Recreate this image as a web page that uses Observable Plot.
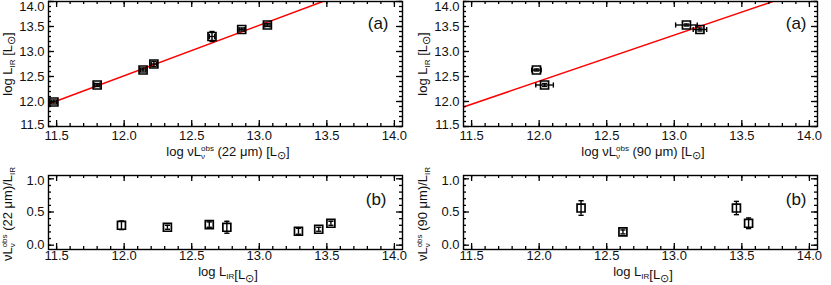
<!DOCTYPE html>
<html><head><meta charset="utf-8">
<script src="https://cdn.jsdelivr.net/npm/d3@7"></script>
<script src="https://cdn.jsdelivr.net/npm/@observablehq/plot@0.6"></script>
<style>
body{margin:0;background:#fff;}
#chart{position:relative;width:831px;height:285px;overflow:hidden;font-family:"Liberation Sans",Arial,sans-serif;}
#chart svg{position:absolute;overflow:visible;}
</style></head><body><div id="chart"></div>
<script>
// ---------- tick values ----------
const xMajor = [11.5, 12.0, 12.5, 13.0, 13.5, 14.0];
const xMinor = [11.5,11.6,11.7,11.8,11.9,12.0,12.1,12.2,12.3,12.4,12.5,12.6,12.7,12.8,12.9,13.0,13.1,13.2,13.3,13.4,13.5,13.6,13.7,13.8,13.9,14.0];
const yMajorTop = [11.5, 12.0, 12.5, 13.0, 13.5, 14.0];
const yMinorTop = [11.5,11.6,11.7,11.8,11.9,12.0,12.1,12.2,12.3,12.4,12.5,12.6,12.7,12.8,12.9,13.0,13.1,13.2,13.3,13.4,13.5,13.6,13.7,13.8,13.9,14.0];
const yMajorBot = [0.0, 0.5, 1.0];
const yMinorBot = [0.0,0.1,0.2,0.3,0.4,0.5,0.6,0.7,0.8,0.9,1.0];

// ---------- 22 um, panel (a) ----------
const nuL22   = [11.48, 11.80, 12.14, 12.22, 12.65, 12.87, 13.06];
const nuL22Err= [0.02, 0.02, 0.02, 0.02, 0.02, 0.02, 0.02];
const lir22   = [11.99, 12.33, 12.63, 12.75, 13.30, 13.44, 13.53];
const lir22Err= [0.04, 0.03, 0.04, 0.05, 0.10, 0.03, 0.03];
const fit22X  = [11.44, 13.47];
const fit22Y  = [11.95, 14.00];
// ---------- 22 um, panel (b) ----------
const lirB22    = [11.98, 12.32, 12.63, 12.76, 13.29, 13.44, 13.53];
const ratio22   = [0.30, 0.27, 0.31, 0.27, 0.21, 0.24, 0.33];
const ratio22Err= [0.065, 0.03, 0.04, 0.09, 0.045, 0.03, 0.03];

// ---------- 90 um, panel (a) ----------
const nuL90   = [11.98, 12.04, 13.09, 13.19];
const nuL90Err= [0.035, 0.065, 0.08, 0.05];
const lir90   = [12.63, 12.33, 13.53, 13.44];
const lir90Err= [0.02, 0.03, 0.02, 0.03];
const fit90X  = [11.44, 13.73];
const fit90Y  = [11.89, 14.00];
// ---------- 90 um, panel (b) ----------
const lirB90    = [12.31, 12.62, 13.46, 13.55];
const ratio90   = [0.56, 0.20, 0.56, 0.33];
const ratio90Err= [0.11, 0.03, 0.10, 0.08];

const xDomain = [11.44, 14.06];
const yDomainTop = [11.5, 14.0];
const yDomainBot = [-0.065, 1.05];

const rows = (xs, ys, eys, exs) => xs.map((x, i) => ({x, y: ys[i], ey: eys ? eys[i] : 0, ex: exs ? exs[i] : 0}));
const hCap = {draw(ctx, size){ const w = Math.sqrt(size/Math.PI); ctx.moveTo(-w,0); ctx.lineTo(w,0);} };
const vCap = {draw(ctx, size){ const w = Math.sqrt(size/Math.PI); ctx.moveTo(0,-w); ctx.lineTo(0,w);} };
const FONT = 13;

function panel(o){
  const iw = o.width - o.ml - o.mr, ih = o.height - o.mt - o.mb;
  const M = 6, m = 3;
  const d = o.rows;
  const marks = [];
  if (o.line) marks.push(Plot.line(o.line, {x:"x", y:"y", stroke:"#f00", strokeWidth:1.5, clip:true}));
  marks.push(
    Plot.ruleX(d, {x:"x", y1:r=>r.y-r.ey, y2:r=>r.y+r.ey, stroke:"#000", strokeWidth:1.4}),
    Plot.dot(d, {x:"x", y:r=>r.y+r.ey, symbol:hCap, r:2.6, stroke:"#000", strokeWidth:1.4}),
    Plot.dot(d, {x:"x", y:r=>r.y-r.ey, symbol:hCap, r:2.6, stroke:"#000", strokeWidth:1.4})
  );
  if (o.xerr) marks.push(
    Plot.ruleY(d, {y:"y", x1:r=>r.x-r.ex, x2:r=>r.x+r.ex, stroke:"#000", strokeWidth:1.4}),
    Plot.dot(d, {x:r=>r.x-r.ex, y:"y", symbol:vCap, r:2.6, stroke:"#000", strokeWidth:1.4}),
    Plot.dot(d, {x:r=>r.x+r.ex, y:"y", symbol:vCap, r:2.6, stroke:"#000", strokeWidth:1.4})
  );
  const yl = o.yMajor;
  marks.push(
    Plot.dot(d, {x:"x", y:"y", symbol:"square", r:4.5, stroke:"#000", strokeWidth:1.7, fill:"none"}),
    Plot.frame({stroke:"#000", strokeWidth:1.4}),
    Plot.tickX(xMajor, {x:v=>v, insetTop:ih-M, stroke:"#000", strokeWidth:1.3}),
    Plot.tickX(xMajor, {x:v=>v, insetBottom:ih-M, stroke:"#000", strokeWidth:1.3}),
    Plot.tickX(xMinor, {x:v=>v, insetTop:ih-m, stroke:"#000", strokeWidth:1.3}),
    Plot.tickX(xMinor, {x:v=>v, insetBottom:ih-m, stroke:"#000", strokeWidth:1.3}),
    Plot.tickY(yl, {y:v=>v, insetRight:iw-M, stroke:"#000", strokeWidth:1.3}),
    Plot.tickY(yl, {y:v=>v, insetLeft:iw-M, stroke:"#000", strokeWidth:1.3}),
    Plot.tickY(o.yMinor, {y:v=>v, insetRight:iw-m, stroke:"#000", strokeWidth:1.3}),
    Plot.tickY(o.yMinor, {y:v=>v, insetLeft:iw-m, stroke:"#000", strokeWidth:1.3}),
    Plot.text(xMajor, {x:v=>v, frameAnchor:"bottom", dy:o.xLabDy, text:v=>v.toFixed(1), fontSize:FONT, fill:"#111"}),
    Plot.text(yl.slice(1, -1), {y:v=>v, frameAnchor:"left", textAnchor:"end", dx:-4, text:v=>v.toFixed(1), fontSize:FONT, fill:"#111"}),
    Plot.text(yl.slice(0, 1), {y:v=>v, frameAnchor:"left", textAnchor:"end", dx:-4, dy:o.lowDy, text:v=>v.toFixed(1), fontSize:FONT, fill:"#111"}),
    Plot.text(yl.slice(-1), {y:v=>v, frameAnchor:"left", textAnchor:"end", dx:-4, dy:o.highDy, text:v=>v.toFixed(1), fontSize:FONT, fill:"#111"}),
    Plot.text([o.tag], {frameAnchor:"top-right", textAnchor:"end", dx:o.tagDx, dy:o.tagDy, fontSize:17, fill:"#111"})
  );
  const svg = Plot.plot({
    width:o.width, height:o.height,
    marginTop:o.mt, marginBottom:o.mb, marginLeft:o.ml, marginRight:o.mr,
    x:{domain:xDomain, axis:null}, y:{domain:o.yDomain, axis:null},
    style:{fontFamily:'"Liberation Sans",Arial,sans-serif', background:"transparent"},
    marks
  });
  svg.style.left = o.left + "px";
  svg.style.top = o.top + "px";
  return svg;
}

const chart = document.getElementById("chart");
const cols = [
  {left:0, a:rows(nuL22, lir22, lir22Err, nuL22Err), b:rows(lirB22, ratio22, ratio22Err),
   line:fit22X.map((x,i)=>({x, y:fit22Y[i]})), tagDxA:-14, tagDxB:-16, wl:"22"},
  {left:415, a:rows(nuL90, lir90, lir90Err, nuL90Err), b:rows(lirB90, ratio90, ratio90Err),
   line:fit90X.map((x,i)=>({x, y:fit90Y[i]})), tagDxA:-11, tagDxB:-11, wl:"90"}
];
for (const c of cols){
  chart.appendChild(panel({left:c.left, top:0, width:416, height:160, mt:1, mb:34, ml:48, mr:14,
    yDomain:yDomainTop, yMajor:yMajorTop, yMinor:yMinorTop, rows:c.a, xerr:true, line:c.line,
    xLabDy:13, lowDy:-2, highDy:5.5, tag:"(a)", tagDx:c.tagDxA, tagDy:15}));
  chart.appendChild(panel({left:c.left, top:160, width:416, height:125, mt:15, mb:36, ml:48, mr:14,
    yDomain:yDomainBot, yMajor:yMajorBot, yMinor:yMinorBot, rows:c.b, xerr:false,
    xLabDy:10, lowDy:0, highDy:2, tag:"(b)", tagDx:c.tagDxB, tagDy:17}));
}

// ---------- axis titles ----------
const ov = d3.select(chart).append("svg").attr("width",831).attr("height",285)
  .style("left","0px").style("top","0px")
  .attr("font-family",'"Liberation Sans",Arial,sans-serif').attr("font-size",FONT).attr("fill","#111");

function nuLobs(t){
  t.append("tspan").text("\u03BDL");
  t.append("tspan").attr("dy",3).attr("font-size",8).text("\u03BD");
  t.append("tspan").attr("dx",-4).attr("dy",-8).attr("font-size",8).text("obs");
  return 5;
}
function lsun(t){
  t.append("tspan").text("[L");
  t.append("tspan").attr("dy",3).attr("font-size",11).text("\u2299");
  t.append("tspan").attr("dy",-3).text("]");
}
for (const c of cols){
  const o = c.left;
  // top x title
  let t = ov.append("text").attr("x",228+o).attr("y",156).attr("text-anchor","middle");
  t.append("tspan").text("log  ");
  let back = nuLobs(t);
  t.append("tspan").attr("dy",back).text(` (${c.wl} \u03BCm) `);
  lsun(t);
  // top y title
  t = ov.append("text").attr("transform",`translate(${12+o},64) rotate(-90)`).attr("text-anchor","middle");
  t.append("tspan").text("log L");
  t.append("tspan").attr("dy",3).attr("font-size",8).text("IR");
  t.append("tspan").attr("dy",-3).text(" ");
  lsun(t);
  // bottom x title
  t = ov.append("text").attr("x",228+o).attr("y",276).attr("text-anchor","middle");
  t.append("tspan").text("log  L");
  t.append("tspan").attr("dy",3).attr("font-size",8).text("IR");
  t.append("tspan").attr("dy",-3).text("");
  lsun(t);
  // bottom y title
  t = ov.append("text").attr("transform",`translate(${12+o},214) rotate(-90)`).attr("text-anchor","middle");
  back = nuLobs(t);
  t.append("tspan").attr("dy",back).text(` (${c.wl} \u03BCm)/L`);
  t.append("tspan").attr("dy",3).attr("font-size",8).text("IR");
}
</script></body></html>
